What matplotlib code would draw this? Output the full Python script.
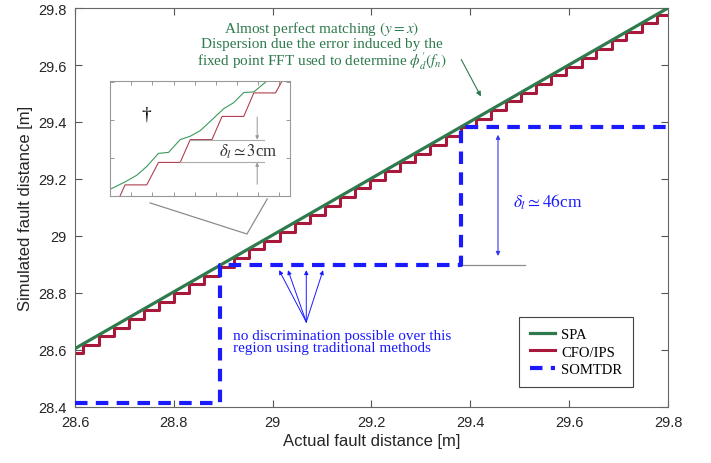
import matplotlib
matplotlib.use("Agg")
import matplotlib.pyplot as plt
from matplotlib.ticker import FuncFormatter, MultipleLocator

# SPA: almost y = x
spa_x = [28.6, 29.8]
spa_y = [28.605, 29.8]

# CFO/IPS staircase: riser positions and level held after each riser [m]
cfo_start = 28.59
cfo_x = [28.617, 28.648, 28.678, 28.709, 28.739, 28.770, 28.800, 28.831,
         28.861, 28.892, 28.922, 28.953, 28.983, 29.014, 29.045, 29.075,
         29.106, 29.136, 29.167, 29.197, 29.228, 29.258, 29.289, 29.319,
         29.350, 29.381, 29.411, 29.442, 29.472, 29.503, 29.533, 29.564,
         29.594, 29.625, 29.655, 29.686, 29.716, 29.747, 29.777]
cfo_y = [28.617, 28.648, 28.678, 28.709, 28.739, 28.770, 28.800, 28.831,
         28.861, 28.892, 28.922, 28.953, 28.983, 29.014, 29.045, 29.075,
         29.106, 29.136, 29.167, 29.197, 29.228, 29.258, 29.289, 29.319,
         29.350, 29.381, 29.411, 29.442, 29.472, 29.503, 29.533, 29.564,
         29.594, 29.625, 29.655, 29.686, 29.716, 29.747, 29.777]

# SOMTDR
somtdr_x = [28.6, 28.893, 28.893, 29.382, 29.382, 29.8]
somtdr_y = [28.415, 28.415, 28.897, 28.897, 29.384, 29.384]

# inset (local cm)
inset_spa_x = [0, 1.42, 2.53, 3.47, 4.58, 5.53, 6.63, 7.58, 8.53, 9.63,
               10.74, 11.68, 12.63, 13.58, 14.84]
inset_spa_y = [0.88, 1.85, 2.73, 3.88, 5.60, 5.73, 7.41, 7.85, 8.60, 10.01,
               11.47, 12.26, 13.59, 13.67, 15.13]
inset_cfo_x = [0.95, 1.42, 3.47, 4.58, 6.63, 7.58, 9.63, 10.58, 12.63,
               13.58, 15.63, 16.26]
inset_cfo_y = [0, 1.46, 1.46, 4.41, 4.41, 7.41, 7.41, 10.45, 10.45,
               13.54, 13.54, 15.13]

GREEN = "#2e7a4c"
RED = "#a8183a"
BLUE = "#1a1aff"
GRAY = "#8c8c8c"

plt.rcParams["font.family"] = ["Liberation Sans", "DejaVu Sans"]
plt.rcParams["mathtext.fontset"] = "stix"
SERIF = ["Liberation Serif", "DejaVu Serif"]

fig = plt.figure(figsize=(7.11, 4.64), dpi=100)
ax = fig.add_axes([0.1055, 0.1207, 0.834, 0.8599])

xs = [spa_x[0]] + cfo_x + [spa_x[-1]]
ys = [cfo_start] + cfo_y + [cfo_y[-1]]
ax.plot(spa_x, spa_y, color=GREEN, lw=2.3, label="SPA", zorder=3)
ax.plot(xs, ys, color=RED, lw=2.2, drawstyle="steps-post", label="CFO/IPS", zorder=2)
ax.plot(somtdr_x, somtdr_y, color=BLUE, lw=3, ls=(0, (3, 2)), label="SOMTDR", zorder=4)

ax.set_xlim(28.6, 29.8)
ax.set_ylim(28.4, 29.8)
ax.xaxis.set_major_locator(MultipleLocator(0.2))
ax.yaxis.set_major_locator(MultipleLocator(0.2))
fmt = FuncFormatter(lambda v, p: f"{v:g}")
ax.xaxis.set_major_formatter(fmt)
ax.yaxis.set_major_formatter(fmt)
ax.tick_params(direction="in", top=True, right=True, length=5, width=0.8,
               color="#555555", labelsize=10.5, labelcolor="#262626", pad=6)
for s in ax.spines.values():
    s.set_color("#666666")
    s.set_linewidth(0.8)
ax.set_xlabel("Actual fault distance [m]", fontsize=12, color="#262626", labelpad=3)
ax.set_ylabel("Simulated fault distance [m]", fontsize=12, color="#262626", labelpad=4)

leg = ax.legend(loc="lower right", bbox_to_anchor=(0.941, 0.05), fancybox=False,
                edgecolor="#444444", framealpha=1, prop={"family": SERIF, "size": 10.5},
                handlelength=1.7, handletextpad=0.4, borderpad=0.75, labelspacing=0.3,
                borderaxespad=0)
leg.get_frame().set_linewidth(0.8)

# annotations
ax.text(29.100, 29.670,
        "Almost perfect matching $(y = x)$\nDispersion due the error induced by the\n"
        "fixed point FFT used to determine $\\phi^{\\prime}_{d}(f_n)$",
        color=GREEN, family=SERIF, fontsize=11, ha="center", va="center",
        linespacing=1.02)
ax.annotate("", xy=(29.424, 29.481), xytext=(29.379, 29.628),
            arrowprops=dict(arrowstyle="-|>", color=GREEN, lw=0.8, mutation_scale=7))

ax.plot([29.382, 29.51], [28.897, 28.897], color=GRAY, lw=0.9, zorder=1)
ax.annotate("", xy=(29.456, 29.365), xytext=(29.456, 28.92),
            arrowprops=dict(arrowstyle="<|-|>", color="#3838f0", lw=0.8, mutation_scale=6))
ax.text(29.487, 29.123, r"$\delta_l \simeq 46$cm", color=BLUE, family=SERIF,
        fontsize=12.5, ha="left", va="center")

ax.text(28.920, 28.630, "no discrimination possible over this\nregion using traditional methods",
        color=BLUE, family=SERIF, fontsize=11, ha="left", va="center", linespacing=0.98)
for tx in [29.013, 29.031, 29.068, 29.102]:
    ax.annotate("", xy=(tx, 28.88), xytext=(29.068, 28.698),
                arrowprops=dict(arrowstyle="-|>", color=BLUE, lw=0.7, mutation_scale=6,
                                shrinkA=0, shrinkB=0))

# zoom connector lines
ax.plot([28.752, 28.948, 28.989], [29.116, 29.007, 29.130], color=GRAY, lw=0.9,
        clip_on=False, zorder=1)

# inset
ins = fig.add_axes([0.1547, 0.5754, 0.2532, 0.2478])
ins.plot(inset_spa_x, inset_spa_y, color="#3a9a5c", lw=0.8)
ins.plot(inset_cfo_x, inset_cfo_y, color="#b04050", lw=0.8)
ins.set_xlim(0, 17)
ins.set_ylim(0, 15.1)
ins.xaxis.set_major_locator(MultipleLocator(2))
ins.yaxis.set_major_locator(MultipleLocator(5))
ins.tick_params(direction="in", top=True, right=True, length=3, width=0.6,
                color="#888888", labelbottom=False, labelleft=False)
for s in ins.spines.values():
    s.set_color("#999999")
    s.set_linewidth(0.8)
ins.plot([7.58, 14.5], [7.41, 7.41], color="#aaaaaa", lw=0.8)
ins.plot([6.63, 14.5], [4.41, 4.41], color="#aaaaaa", lw=0.8)
ins.annotate("", xy=(13.9, 7.41), xytext=(13.9, 10.37),
             arrowprops=dict(arrowstyle="-|>", color="#999999", lw=0.7, mutation_scale=5,
                             shrinkA=0, shrinkB=0))
ins.annotate("", xy=(13.9, 4.41), xytext=(13.9, 1.54),
             arrowprops=dict(arrowstyle="-|>", color="#999999", lw=0.7, mutation_scale=5,
                             shrinkA=0, shrinkB=0))
ins.text(13.0, 5.95, r"$\delta_l \simeq 3$cm", color="#333333", family=SERIF,
         fontsize=12, ha="center", va="center")
ins.text(3.47, 10.8, "\u2020", color="black", family=SERIF, fontsize=14,
         ha="center", va="center")

fig.savefig("out.png", dpi=100)
